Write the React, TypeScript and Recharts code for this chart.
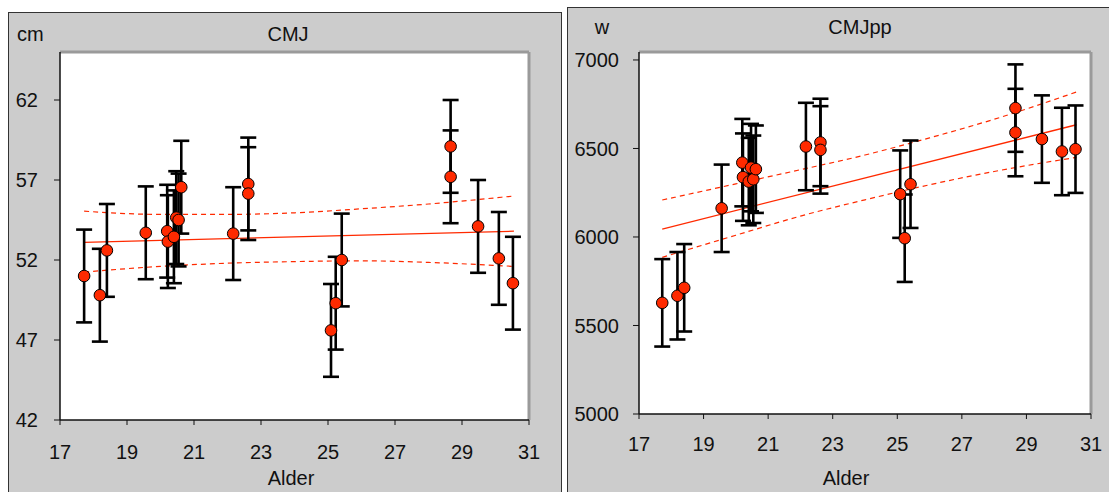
import React from "react";
import {
  ComposedChart,
  Scatter,
  Line,
  XAxis,
  YAxis,
  ErrorBar,
  CartesianGrid,
  ReferenceLine,
} from "recharts";

// age of each athlete (years)
const alder = [
  17.72, 18.19, 18.4, 19.56, 20.2, 20.22, 20.4, 20.47, 20.54, 20.62, 22.17, 22.62, 22.62,
  25.09, 25.23, 25.41, 28.66, 28.66, 29.48, 30.1, 30.52,
];

// jump height (cm) and its error
const cmj = [
  51.0, 49.8, 52.6, 53.7, 53.8, 53.15, 53.45, 54.65, 54.5, 56.55, 53.65, 56.75, 56.15,
  47.6, 49.3, 52.0, 59.1, 57.2, 54.1, 52.1, 50.55,
];
const cmjErr = [
  2.9, 2.9, 2.9, 2.9, 2.9, 2.9, 2.9, 2.9, 2.9, 2.9, 2.9, 2.9, 2.9, 2.9, 2.9, 2.9, 2.9, 2.9,
  2.9, 2.9, 2.9,
];

// peak power (w) and its error
const cmjpp = [
  5628, 5668, 5713, 6162, 6420, 6338, 6313, 6392, 6326, 6383, 6511, 6534, 6492, 6242, 5993,
  6298, 6728, 6590, 6553, 6483, 6496,
];
const cmjppErr = [
  247, 247, 247, 247, 247, 247, 247, 247, 247, 247, 247, 247, 247, 247, 247, 247, 247, 247,
  247, 247, 247,
];

// regression line and confidence band
const fitAlder = [17.72, 30.55];
const cmjFit = [53.1, 53.8];
const cmjppFit = [6045, 6634];

const bandAlder = [17.72, 20, 22, 24, 26, 28, 30.55];
const cmjUpper = [55.05, 54.85, 54.85, 54.95, 55.2, 55.5, 56.0];
const cmjLower = [51.25, 51.6, 51.8, 51.9, 51.95, 51.85, 51.6];
const cmjppUpper = [6209, 6300, 6380, 6463, 6560, 6665, 6819];
const cmjppLower = [5885, 6010, 6118, 6210, 6295, 6370, 6450];

const xTicks = [17, 19, 21, 23, 25, 27, 29, 31];
const cmjTicks = [42, 47, 52, 57, 62];
const cmjppTicks = [5000, 5500, 6000, 6500, 7000];

const FONT = '"Liberation Sans", Arial, sans-serif';
const RED = "#ff2a00";

const zip = (xs: number[], ys: number[]) => xs.map((x, i) => ({ x, y: ys[i] }));

const Dot = (p: any) => (
  <circle cx={p.cx} cy={p.cy} r={5.8} fill={RED} stroke="#000" strokeWidth={1} />
);

interface PanelProps {
  left: number;
  width: number;
  margin: { top: number; right: number; bottom: number; left: number };
  yWidth: number;
  xHeight: number;
  xTickMargin: number;
  yTickMargin: number;
  yDomain: [number, number];
  yTicks: number[];
  values: number[];
  errors: number[];
  fit: number[];
  upper: number[];
  lower: number[];
}

function Panel(p: PanelProps) {
  const points = alder.map((x, i) => ({ x, y: p.values[i], err: p.errors[i] }));
  const tick = { fill: "#111", fontSize: 20, fontFamily: FONT };
  return (
    <div style={{ position: "absolute", left: p.left, top: 0 }}>
      <ComposedChart width={p.width} height={492} margin={p.margin}>
        <CartesianGrid fill="#fff" horizontal={false} vertical={false} />
        <XAxis
          type="number"
          dataKey="x"
          domain={[17, 31]}
          ticks={xTicks}
          allowDataOverflow
          height={p.xHeight}
          tick={tick}
          tickSize={5}
          tickMargin={p.xTickMargin}
          axisLine={{ stroke: "#111", strokeWidth: 1.5 }}
          tickLine={{ stroke: "#111" }}
        />
        <YAxis
          type="number"
          domain={p.yDomain}
          ticks={p.yTicks}
          allowDataOverflow
          width={p.yWidth}
          tick={tick}
          tickSize={6}
          tickMargin={p.yTickMargin}
          axisLine={{ stroke: "#111", strokeWidth: 1.5 }}
          tickLine={{ stroke: "#111" }}
        />
        <ReferenceLine y={p.yDomain[1]} stroke="#9a9a9a" strokeWidth={3} />
        <ReferenceLine x={31} stroke="#9a9a9a" strokeWidth={3} />
        <Line
          data={zip(bandAlder, p.upper)}
          dataKey="y"
          type="monotone"
          stroke={RED}
          strokeWidth={1.2}
          strokeDasharray="5 4"
          dot={false}
          isAnimationActive={false}
        />
        <Line
          data={zip(bandAlder, p.lower)}
          dataKey="y"
          type="monotone"
          stroke={RED}
          strokeWidth={1.2}
          strokeDasharray="5 4"
          dot={false}
          isAnimationActive={false}
        />
        <Line
          data={zip(fitAlder, p.fit)}
          dataKey="y"
          type="linear"
          stroke={RED}
          strokeWidth={1.3}
          dot={false}
          isAnimationActive={false}
        />
        <Scatter data={points} dataKey="y" shape={Dot} isAnimationActive={false}>
          <ErrorBar dataKey="err" direction="y" width={8} stroke="#000" strokeWidth={2.6} />
        </Scatter>
      </ComposedChart>
    </div>
  );
}

const Label = ({ x, y, text, anchor = "center" }: { x: number; y: number; text: string; anchor?: string }) => (
  <div
    style={{
      position: "absolute",
      left: x,
      top: y,
      transform: anchor === "center" ? "translate(-50%, -50%)" : "translate(0, -50%)",
      fontFamily: FONT,
      fontSize: 20,
      lineHeight: "20px",
      color: "#111",
      whiteSpace: "nowrap",
    }}
  >
    {text}
  </div>
);

export default function App() {
  return (
    <div
      style={{
        position: "absolute",
        left: 0,
        top: 0,
        width: 1109,
        height: 492,
        overflow: "hidden",
        background: "#fff",
      }}
    >
      <div
        style={{
          position: "absolute",
          left: 8,
          top: 12,
          width: 552,
          height: 500,
          background: "#cccccc",
          border: "1.5px solid #333",
        }}
      />
      <div
        style={{
          position: "absolute",
          left: 567,
          top: 7,
          width: 560,
          height: 500,
          background: "#cccccc",
          border: "1.5px solid #333",
        }}
      />
      <Panel
        left={0}
        width={560}
        margin={{ top: 52, right: 31, bottom: 12, left: 0 }}
        yWidth={60}
        xHeight={60}
        xTickMargin={20}
        yTickMargin={16}
        yDomain={[42, 65]}
        yTicks={cmjTicks}
        values={cmj}
        errors={cmjErr}
        fit={cmjFit}
        upper={cmjUpper}
        lower={cmjLower}
      />
      <Panel
        left={560}
        width={549}
        margin={{ top: 52, right: 18, bottom: 0, left: 0 }}
        yWidth={79}
        xHeight={78}
        xTickMargin={18}
        yTickMargin={14}
        yDomain={[5000, 7045]}
        yTicks={cmjppTicks}
        values={cmjpp}
        errors={cmjppErr}
        fit={cmjppFit}
        upper={cmjppUpper}
        lower={cmjppLower}
      />
      <Label x={17} y={34} text="cm" anchor="left" />
      <Label x={288} y={34} text="CMJ" />
      <Label x={291} y={478} text="Alder" />
      <Label x={602} y={27} text="w" />
      <Label x={860} y={27} text="CMJpp" />
      <Label x={846} y={478} text="Alder" />
    </div>
  );
}
